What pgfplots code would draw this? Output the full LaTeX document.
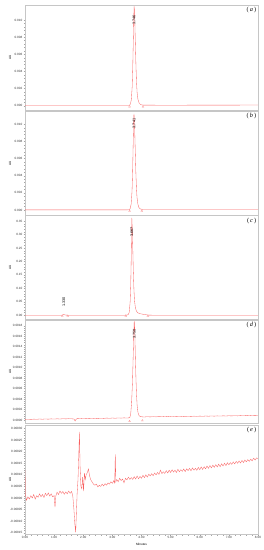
\documentclass[border=0pt]{standalone}
\usepackage{fontspec}
\setmainfont{Liberation Sans}
\newfontfamily\seriffont{Liberation Serif}
\usepackage{pgfplots}
\pgfplotsset{compat=1.18}
\newcommand\tk{\fontsize{3.1}{3.5}\selectfont}
\newcommand\pk{\fontsize{3.8}{4.2}\selectfont}
\definecolor{trace}{RGB}{248,95,95}
\tikzset{
  pl/.style={font=\pk, rotate=90, text=black, inner sep=0.5pt},
  plab/.style={font=\seriffont\fontsize{6.3}{7}\selectfont, anchor=north east, inner sep=0.5pt},
}
\pgfplotsset{
  panel/.style={
    scale only axis, width=233pt, xmin=0, xmax=8,
    axis line style={gray!45, line width=0.4pt},
    tick style={gray!70, line width=0.3pt},
    major tick length=1.4pt, minor tick length=0.8pt,
    tick align=outside, ytick pos=left, xtick pos=bottom,
    xtick=\empty,
    ticklabel style={font=\tk, text=black!80, inner sep=1pt},
    /pgf/number format/assume math mode=true,
    scaled y ticks=false,
    yticklabel style={/pgf/number format/fixed, /pgf/number format/fixed zerofill},
    minor y tick num=4,
    ylabel={AU},
    ylabel style={font=\tk, at={(axis description cs:-0.064,0.5)}, anchor=center},
    clip=true,
  },
  tr/.style={trace, line width=0.32pt, mark=none},
  tri/.style={only marks, mark=triangle, mark size=1.1pt, mark options={trace!70, line width=0.25pt}},
}
\begin{document}
\begin{tikzpicture}
\useasboundingbox (0pt,0pt) rectangle (264pt,-550pt);
% ---------- (a)
\begin{axis}[panel, at={(25pt,-4.7pt)}, anchor=north west, height=105.3pt,
  ymin=-0.0005, ymax=0.01179, ytick={0,0.002,0.004,0.006,0.008,0.010},
  yticklabel style={/pgf/number format/precision=3}]
\addplot[tr] coordinates {(0,0.00002)(1,0.00002)(2,0.00002)(3,0.00002)(3.5,0.00002)(3.58,0.00003)(3.62,0.0002)(3.65,0.0007)(3.68,0.0022)(3.70,0.0045)(3.72,0.0078)(3.735,0.0103)(3.746,0.0116)(3.755,0.0113)(3.77,0.0098)(3.79,0.0072)(3.81,0.0046)(3.83,0.0027)(3.85,0.0015)(3.88,0.0007)(3.92,0.0003)(3.97,0.00013)(4.05,0.00007)(5,0.00006)(6,0.00007)(7,0.00007)(8,0.00008)};
\addplot[tri] coordinates {(3.59,-0.0001)(4.05,-0.0001)};
\node[pl] at (axis cs:3.746,0.0100) {3.746};
\node[plab] at (axis description cs:0.995,0.985) {(\,\textit{a}\,)};
\end{axis}
% ---------- (b)
\begin{axis}[panel, at={(25pt,-111pt)}, anchor=north west, height=104pt,
  ymin=-0.00058, ymax=0.01155, ytick={0,0.002,0.004,0.006,0.008,0.010},
  yticklabel style={/pgf/number format/precision=3}]
\addplot[tr] coordinates {(0,0.00002)(1,0.00002)(2,0.00002)(3,0.00002)(3.5,0.00002)(3.58,0.00003)(3.615,0.0002)(3.645,0.0007)(3.675,0.0022)(3.695,0.0045)(3.715,0.0078)(3.73,0.0102)(3.741,0.0112)(3.75,0.0109)(3.765,0.0095)(3.785,0.0070)(3.805,0.0045)(3.825,0.0027)(3.845,0.0015)(3.875,0.0007)(3.91,0.0003)(3.96,0.00013)(4.03,0.00007)(5,0.00006)(6,0.00006)(7,0.00007)(8,0.00007)};
\addplot[tri] coordinates {(3.59,-0.0001)(4.01,-0.0001)};
\node[pl] at (axis cs:3.741,0.0101) {3.741};
\node[plab] at (axis description cs:0.995,0.985) {(\,\textit{b}\,)};
\end{axis}
% ---------- (c)
\begin{axis}[panel, at={(25pt,-215.5pt)}, anchor=north west, height=104pt,
  ymin=-0.0156, ymax=0.3705, ytick={0,0.05,0.10,0.15,0.20,0.25,0.30,0.35},
  yticklabel style={/pgf/number format/precision=2}]
\addplot[tr] coordinates {(0,0.0003)(1,0.0003)(1.25,0.0003)(1.29,0.0008)(1.31,0.0022)(1.33,0.0028)(1.36,0.0018)(1.40,0.0008)(1.47,0.0004)(2,0.0003)(3,0.0003)(3.40,0.0003)(3.50,0.0008)(3.55,0.003)(3.58,0.012)(3.61,0.05)(3.63,0.11)(3.645,0.20)(3.655,0.28)(3.667,0.362)(3.68,0.33)(3.70,0.25)(3.72,0.16)(3.74,0.095)(3.76,0.055)(3.79,0.028)(3.83,0.014)(3.88,0.009)(3.95,0.006)(4.05,0.004)(4.15,0.002)(4.25,0.0008)(4.4,0.0004)(5,0.0003)(6,0.0003)(7,0.0003)(8,0.0003)};
\addplot[tri] coordinates {(1.28,-0.002)(1.47,-0.002)(3.46,-0.002)(4.22,-0.002)};
\node[pl] at (axis cs:3.667,0.310) {3.667};
\node[pl] at (axis cs:1.33,0.050) {1.330};
\node[plab] at (axis description cs:0.995,0.985) {(\,\textit{c}\,)};
\end{axis}
% ---------- (d)
\begin{axis}[panel, at={(25pt,-320pt)}, anchor=north west, height=103.5pt,
  ymin=-0.0000669, ymax=0.001911,
  ytick={0,0.0002,0.0004,0.0006,0.0008,0.0010,0.0012,0.0014,0.0016,0.0018},
  yticklabel style={/pgf/number format/precision=4}]
\addplot[tr] coordinates {(0.0,0.000012)(0.1,0.000016)(0.2,0.000011)(0.3,0.000017)(0.4,0.000014)(0.5,0.000019)(0.6,0.000015)(0.7,0.000020)(0.8,0.000016)(0.9,0.000022)(1.0,0.000018)(1.1,0.000023)(1.2,0.000019)(1.3,0.000025)(1.4,0.000021)(1.5,0.000026)(1.6,0.000023)(1.68,0.000020)(1.72,-0.000018)(1.76,0.000018)(1.8,0.000027)(1.9,0.000024)(2.0,0.000030)(2.1,0.000026)(2.2,0.000032)(2.3,0.000028)(2.4,0.000033)(2.5,0.000030)(2.6,0.000035)(2.7,0.000031)(2.8,0.000037)(2.9,0.000033)(3.0,0.000038)(3.1,0.000034)(3.2,0.000040)(3.3,0.000036)(3.4,0.000041)(3.5,0.000038)(3.58,0.000042)(3.60,0.00005)(3.63,0.00012)(3.66,0.00033)(3.69,0.00072)(3.71,0.00112)(3.73,0.00155)(3.742,0.00180)(3.750,0.00189)(3.76,0.00183)(3.775,0.00155)(3.79,0.00118)(3.81,0.00078)(3.83,0.00048)(3.85,0.00028)(3.88,0.00014)(3.92,0.00008)(3.97,0.000065)(4.03,0.00006)(4.1,0.000058)(4.2,0.000063)(4.3,0.000059)(4.4,0.000064)(4.5,0.000060)(4.6,0.000066)(4.7,0.000062)(4.8,0.000067)(4.9,0.000063)(5.0,0.000069)(5.1,0.000065)(5.2,0.000070)(5.3,0.000066)(5.4,0.000071)(5.5,0.000068)(5.6,0.000073)(5.7,0.000069)(5.8,0.000074)(5.9,0.000070)(6.0,0.000075)(6.1,0.000071)(6.2,0.000076)(6.3,0.000073)(6.4,0.000077)(6.5,0.000074)(6.6,0.000079)(6.7,0.000075)(6.8,0.000080)(6.9,0.000077)(7.0,0.000081)(7.1,0.000078)(7.2,0.000083)(7.3,0.000079)(7.4,0.000084)(7.5,0.000080)(7.6,0.000085)(7.7,0.000082)(7.8,0.000086)(7.9,0.000083)(8.0,0.000087)};
\addplot[tri] coordinates {(3.59,-0.000025)(4.03,-0.000010)};
\node[pl] at (axis cs:3.750,0.00164) {3.750};
\node[plab] at (axis description cs:0.995,0.985) {(\,\textit{d}\,)};
\end{axis}
% ---------- (e)
\begin{axis}[panel, at={(25pt,-425pt)}, anchor=north west, height=109.5pt,
  ymin=-0.0001578, ymax=0.0003151,
  ytick={-0.00015,-0.0001,-0.00005,0,0.00005,0.0001,0.00015,0.0002,0.00025,0.0003},
  yticklabel style={/pgf/number format/precision=5},
  xtick={0,1,2,3,4,5,6,7,8}, minor x tick num=4,
  xticklabel style={/pgf/number format/fixed, /pgf/number format/fixed zerofill, /pgf/number format/precision=2, inner sep=0.6pt},
  xlabel={Minutes}, xlabel style={font=\tk, inner sep=0.3pt, at={(axis description cs:0.5,-0.088)}, anchor=center}]
\addplot[tr] coordinates {(0.00,12e-5)(0.01,2e-5)(0.05,-1e-5)(0.10,0.5e-5)(0.15,-0.5e-5)(0.20,1e-5)(0.25,0e-5)(0.30,1.5e-5)(0.35,-0.5e-5)(0.40,1e-5)(0.45,0.3e-5)(0.50,1.8e-5)(0.55,0.5e-5)(0.60,1.5e-5)(0.65,0.2e-5)(0.70,2e-5)(0.75,1e-5)(0.80,2.2e-5)(0.85,0.8e-5)(0.90,1.8e-5)(0.95,0.5e-5)(1.00,1e-5)(1.03,-4e-5)(1.06,1e-5)(1.10,2.5e-5)(1.15,1.5e-5)(1.20,3e-5)(1.25,2e-5)(1.30,2.8e-5)(1.35,1.6e-5)(1.40,2.6e-5)(1.45,1.8e-5)(1.50,3e-5)(1.55,2e-5)(1.60,2.8e-5)(1.64,1e-5)(1.68,-5e-5)(1.71,-11e-5)(1.74,-14.8e-5)(1.76,-8e-5)(1.79,2e-5)(1.82,8e-5)(1.85,20e-5)(1.87,28.5e-5)(1.89,14e-5)(1.92,5e-5)(1.95,4e-5)(1.98,9e-5)(2.01,3e-5)(2.04,10.7e-5)(2.07,8e-5)(2.10,10e-5)(2.14,11e-5)(2.18,12.5e-5)(2.21,10e-5)(2.25,8e-5)(2.30,7e-5)(2.35,6e-5)(2.40,5.5e-5)(2.45,6e-5)(2.50,4.8e-5)(2.55,5.5e-5)(2.60,5e-5)(2.65,6e-5)(2.70,5.2e-5)(2.75,6.2e-5)(2.80,5.5e-5)(2.85,6.5e-5)(2.90,6e-5)(2.95,7e-5)(3.00,6.3e-5)(3.05,7.5e-5)(3.08,6.5e-5)(3.10,18.8e-5)(3.12,7e-5)(3.15,8e-5)(3.20,7e-5)(3.25,8.5e-5)(3.30,7.5e-5)(3.35,8.2e-5)(3.40,6.5e-5)(3.45,8.5e-5)(3.50,7.8e-5)(3.55,9e-5)(3.60,8e-5)(3.65,8.8e-5)(3.70,8e-5)(3.75,9.2e-5)(3.80,8.2e-5)(3.85,9.5e-5)(3.90,8.3e-5)(3.95,9.3e-5)(4.00,8.5e-5)(4.05,9.8e-5)(4.10,8.8e-5)(4.15,10e-5)(4.20,9e-5)(4.25,10.3e-5)(4.30,9.5e-5)(4.35,10.5e-5)(4.40,9.6e-5)(4.45,10.8e-5)(4.50,10e-5)(4.55,11e-5)(4.60,10.2e-5)(4.65,12e-5)(4.70,10.5e-5)(4.75,11.3e-5)(4.80,10.6e-5)(4.85,11.8e-5)(4.90,10.8e-5)(4.95,12e-5)(5.00,11e-5)(5.05,12.2e-5)(5.10,11.2e-5)(5.15,12e-5)(5.20,11e-5)(5.25,12.4e-5)(5.30,11.3e-5)(5.35,12.2e-5)(5.40,11.5e-5)(5.45,12.5e-5)(5.50,11.4e-5)(5.55,12.6e-5)(5.60,11.8e-5)(5.65,12.8e-5)(5.70,11.7e-5)(5.75,13e-5)(5.80,12e-5)(5.85,12.8e-5)(5.90,11.9e-5)(5.95,13.2e-5)(6.00,12.2e-5)(6.05,13.4e-5)(6.10,12.3e-5)(6.15,13.5e-5)(6.20,12.6e-5)(6.25,13.8e-5)(6.30,12.8e-5)(6.35,14e-5)(6.40,13e-5)(6.45,14.2e-5)(6.50,13.2e-5)(6.55,14.4e-5)(6.60,13.4e-5)(6.65,14.6e-5)(6.70,13.5e-5)(6.75,14.8e-5)(6.80,13.8e-5)(6.85,15e-5)(6.90,14e-5)(6.95,15.2e-5)(7.00,14.3e-5)(7.05,15.3e-5)(7.10,14.5e-5)(7.15,15.6e-5)(7.20,14.7e-5)(7.25,15.8e-5)(7.30,15e-5)(7.35,16e-5)(7.40,15.1e-5)(7.45,16.2e-5)(7.50,15.3e-5)(7.55,16.4e-5)(7.60,15.6e-5)(7.65,16.6e-5)(7.70,15.8e-5)(7.75,16.8e-5)(7.80,16e-5)(7.85,17.2e-5)(7.90,16.4e-5)(7.95,17.3e-5)(8.00,17e-5)};
\node[plab] at (axis description cs:0.995,0.985) {(\,\textit{e}\,)};
\end{axis}
\end{tikzpicture}
\end{document}
